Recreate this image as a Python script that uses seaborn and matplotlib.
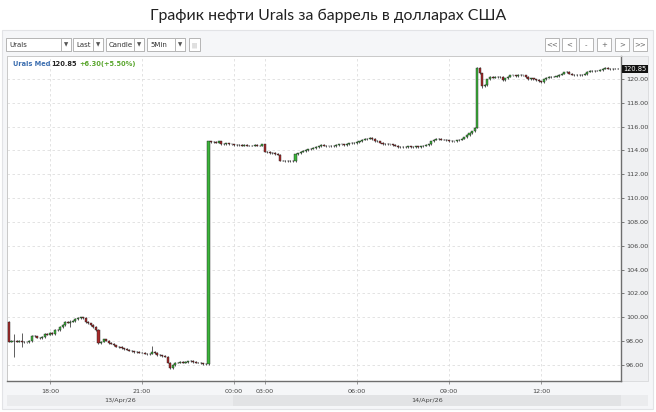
import numpy as np
import pandas as pd
import matplotlib
matplotlib.use("Agg")
import matplotlib.pyplot as plt
import matplotlib.transforms as mtransforms
from matplotlib.patches import Rectangle
import seaborn as sns

# ── Data: 5-minute Urals closes ───────────────────────────────────────────────
# session 1: 13/Apr 16:40 -> 14/Apr 00:55 (rows of 12 candles)
session1_closes = [
    97.95, 98.05, 98.0, 97.95, 98.05, 97.95, 97.9, 97.9, 98.0, 98.45, 98.4, 98.3,
    98.25, 98.35, 98.6, 98.55, 98.7, 98.6, 98.95, 98.9, 99.2, 99.35, 99.6, 99.55,
    99.65, 99.7, 99.85, 99.95, 100.0, 99.95, 99.6, 99.5, 99.35, 99.2, 98.95, 97.85,
    97.95, 98.15, 98.05, 97.85, 97.8, 97.65, 97.55, 97.5, 97.4, 97.35, 97.3, 97.2,
    97.15, 97.1, 97.1, 97.05, 97.05, 96.95, 96.9, 96.95, 97.1, 97.0, 96.85, 96.8,
    96.75, 96.7, 96.2, 95.75, 96.0, 96.2, 96.2, 96.25, 96.2, 96.25, 96.3, 96.35,
    96.25, 96.2, 96.2, 96.15, 96.1, 96.05, 114.75, 114.7, 114.7, 114.65, 114.75, 114.55,
    114.5, 114.6, 114.5, 114.5, 114.45, 114.45, 114.45, 114.4, 114.45, 114.4, 114.4, 114.4,
    114.45, 114.4, 114.4, 114.5,
]
# session 2: 14/Apr 03:00 -> 14:30
session2_closes = [
    113.9, 113.85, 113.75, 113.8, 113.7, 113.65, 113.15, 113.15, 113.1, 113.15, 113.1, 113.1,
    113.7, 113.75, 113.9, 113.95, 114.05, 114.1, 114.15, 114.2, 114.3, 114.35, 114.45, 114.4,
    114.35, 114.35, 114.4, 114.35, 114.45, 114.5, 114.5, 114.45, 114.55, 114.6, 114.65, 114.6,
    114.7, 114.75, 114.9, 114.95, 115.0, 115.05, 114.95, 114.8, 114.75, 114.65, 114.55, 114.55,
    114.5, 114.5, 114.45, 114.4, 114.3, 114.25, 114.3, 114.3, 114.35, 114.3, 114.3, 114.35,
    114.3, 114.35, 114.4, 114.45, 114.5, 114.75, 114.9, 114.95, 114.95, 114.9, 114.9, 114.85,
    114.8, 114.75, 114.75, 114.85, 114.9, 115.0, 115.1, 115.3, 115.45, 115.6, 115.9, 120.9,
    120.5, 119.4, 119.5, 119.95, 120.15, 120.1, 120.2, 120.15, 120.2, 119.9, 120.05, 120.2,
    120.3, 120.3, 120.25, 120.35, 120.3, 120.3, 120.15, 120.0, 120.05, 119.95, 119.9, 119.8,
    119.75, 119.95, 120.1, 120.15, 120.2, 120.2, 120.25, 120.35, 120.45, 120.55, 120.6, 120.45,
    120.35, 120.3, 120.35, 120.3, 120.35, 120.4, 120.6, 120.7, 120.65, 120.7, 120.7, 120.75,
    120.85, 120.9, 120.85, 120.8, 120.85, 120.85, 120.85,
]
first_open = 99.65
# visible long shadows: candle index -> (low, high)
long_wicks = {2: (96.7, 98.6), 5: (97.5, 98.7), 24: (99.2, 99.75), 56: (96.95, 97.6),
              183: (115.85, 121.0), 185: (119.2, 120.5)}

x_tick_labels = ["18:00", "21:00", "00:00", "03:00", "06:00", "09:00", "12:00"]
y_ticks = [96, 98, 100, 102, 104, 106, 108, 110, 112, 114, 116, 118, 120]
day_labels = ["13/Apr/26", "14/Apr/26"]
last_price = 120.85
change_abs = 6.30
change_pct = 5.50

# ── Build candle table ────────────────────────────────────────────────────────
t1 = pd.date_range("2026-04-13 16:40", periods=len(session1_closes), freq="5min")
t2 = pd.date_range("2026-04-14 03:00", periods=len(session2_closes), freq="5min")
df = pd.DataFrame({"time": t1.append(t2), "close": session1_closes + session2_closes})
df["open"] = df["close"].shift(1).fillna(first_open)
df["idx"] = np.arange(len(df))
df["lo_body"] = df[["open", "close"]].min(axis=1)
df["hi_body"] = df[["open", "close"]].max(axis=1)
df["low"] = df["lo_body"] - 0.06
df["high"] = df["hi_body"] + 0.06
for i, (lo, hi) in long_wicks.items():
    df.loc[i, "low"] = lo
    df.loc[i, "high"] = hi
df["up"] = df["close"] >= df["open"]

UP, DOWN, EDGE = "#3cb43a", "#a82a2a", "#1e1e1e"

# ── Figure ────────────────────────────────────────────────────────────────────
sns.set_theme(style="white")
plt.rcParams["font.family"] = ["DejaVu Sans"]

W, H = 656, 412
fig = plt.figure(figsize=(W / 100, H / 100), dpi=100, facecolor="white")

# background axes in pixel coordinates for the widget chrome
bg = fig.add_axes([0, 0, 1, 1], zorder=-1)
bg.set_xlim(0, W)
bg.set_ylim(H, 0)
bg.axis("off")

bg.add_patch(Rectangle((2, 30), 651, 379, fc="#f5f6f8", ec="#e2e3e6", lw=0.8))
bg.add_patch(Rectangle((621, 56), 27, 325, fc="#eff0f2", ec="#d8d9dc", lw=0.6))
bg.add_patch(Rectangle((7, 395), 641, 11, fc="#ebecee", ec="none"))
bg.add_patch(Rectangle((233, 395), 388, 11, fc="#e2e3e5", ec="none"))

# toolbar
def dropdown(x0, x1, label, arrow_w=10):
    bg.add_patch(Rectangle((x0, 38), x1 - x0, 13, fc="white", ec="#b5b5b5", lw=0.7))
    bg.add_patch(Rectangle((x1 - arrow_w, 38), arrow_w, 13, fc="white", ec="#b5b5b5", lw=0.7))
    bg.text(x0 + 3, 44.8, label, fontsize=5, color="#333", va="center")
    bg.text(x1 - arrow_w / 2, 44.8, "▼", fontsize=4, color="#555", ha="center", va="center")

dropdown(6, 71, "Urals")
dropdown(73, 103, "Last")
dropdown(106, 144, "Candle")
dropdown(147, 185, "5Min")
bg.add_patch(Rectangle((189, 38), 11, 13, fc="white", ec="#b5b5b5", lw=0.7))
bg.text(194.5, 44.8, "|||", fontsize=4, color="#888", ha="center", va="center")

for x0, lab in zip([545, 562, 579, 597, 615, 633], ["<<", "<", "-", "+", ">", ">>"]):
    bg.add_patch(Rectangle((x0, 38), 14, 13, fc="white", ec="#b5b5b5", lw=0.7))
    bg.text(x0 + 7, 44.8, lab, fontsize=5, color="#666", ha="center", va="center")

fig.text(0.5, 1 - 16 / H, "График нефти Urals за баррель в долларах США",
         ha="center", va="center", fontsize=11.4, color="#222", family="Lato")

# main price axes
ax = fig.add_axes([7 / W, 1 - 381 / H, (621 - 7) / W, (381 - 56) / H], zorder=1)
ax.set_facecolor("white")

ax.vlines(df["idx"], df["low"], df["high"], color=EDGE, lw=0.5, zorder=2)
ax.bar(df["idx"], df["hi_body"] - df["lo_body"], bottom=df["lo_body"], width=0.8,
       color=np.where(df["up"], UP, DOWN), edgecolor=EDGE, linewidth=0.3, zorder=3)

ax.set_xlim(-0.75, len(df) + 0.2)
ax.set_ylim(94.66, 121.92)

# ticks
hhmm = df["time"].dt.strftime("%H:%M")
tick_pos = [int(df.index[hhmm == lab][0]) for lab in x_tick_labels]
ax.set_xticks(tick_pos)
ax.set_xticklabels(x_tick_labels)
ax.set_yticks(y_ticks)
ax.set_yticklabels([f"{v:.2f}" for v in y_ticks])
ax.yaxis.tick_right()
ax.tick_params(axis="y", right=True, length=2.5, width=0.6, color="#666", pad=1,
               labelsize=4.6, labelcolor="#444")
ax.tick_params(axis="x", bottom=True, length=2.5, width=0.6, color="#888", pad=3,
               labelsize=4.6, labelcolor="#444")
ax.grid(True, color="#dedede", lw=0.6, ls=(0, (3, 3)))
ax.set_axisbelow(True)

for side in ["top", "left"]:
    ax.spines[side].set_color("#c9c9c9")
    ax.spines[side].set_linewidth(0.7)
for side in ["right", "bottom"]:
    ax.spines[side].set_color("#6e6e6e")
    ax.spines[side].set_linewidth(1.0)

# last price tag on the price axis
tr = mtransforms.blended_transform_factory(ax.transAxes, ax.transData)
ax.text(1.004, last_price, f"{last_price:.2f}", transform=tr, fontsize=4.8, color="white",
        va="center", ha="left", clip_on=False, zorder=5,
        bbox=dict(boxstyle="square,pad=0.15", fc="#111", ec="none"))

# legend line inside the chart
def axfx(px):
    return (px - 7) / (621 - 7)

ly = 1 - (64 - 56) / (381 - 56)
ax.text(axfx(13), ly, "Urals Med", transform=ax.transAxes, fontsize=4.8,
        fontweight="bold", color="#3d6fb0", va="center")
ax.text(axfx(51), ly, f"{last_price:.2f}", transform=ax.transAxes, fontsize=4.8,
        fontweight="bold", color="#222", va="center")
ax.text(axfx(79), ly, f"+{change_abs:.2f}(+{change_pct:.2f}%)", transform=ax.transAxes,
        fontsize=4.8, fontweight="bold", color="#5aa62e", va="center")

# day band labels
day_start = int(df.index[df["time"].dt.day == 14][0])
xpix = lambda i: 7 + (i + 0.75) / (len(df) + 0.95) * (621 - 7)
bg.text((7 + xpix(day_start - 0.5)) / 2, 400.5, day_labels[0], fontsize=4.6,
        color="#444", ha="center", va="center")
bg.text((xpix(day_start - 0.5) + 621) / 2, 400.5, day_labels[1], fontsize=4.6,
        color="#444", ha="center", va="center")

fig.savefig("out.png", dpi=100, facecolor="white")
